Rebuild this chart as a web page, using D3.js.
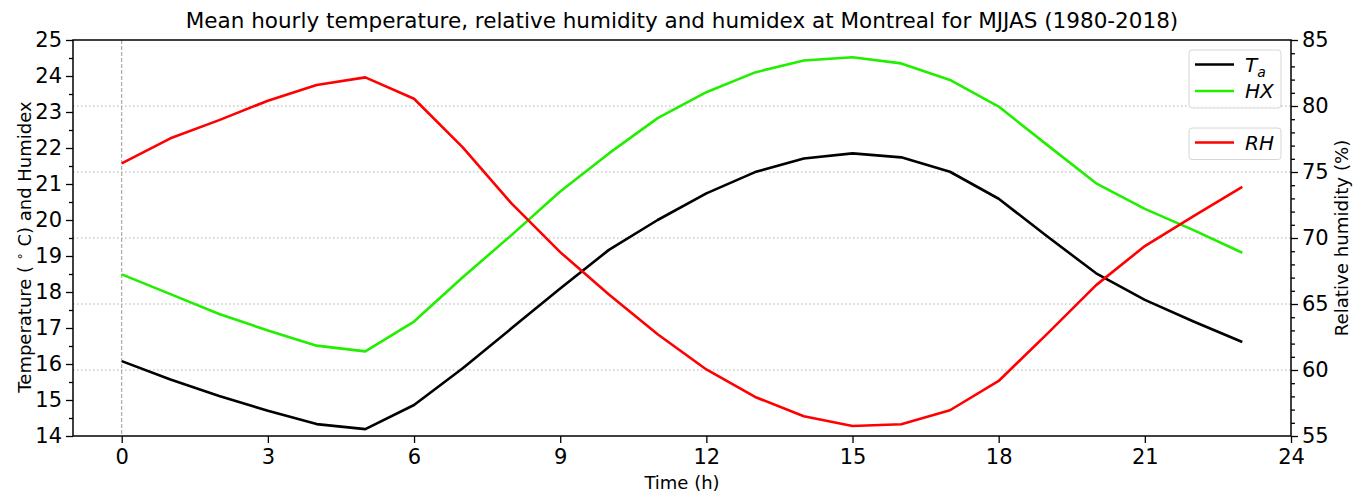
<!DOCTYPE html>
<html>
<head>
<meta charset="utf-8">
<script src="https://cdn.jsdelivr.net/npm/d3@7"></script>
<style>
  body { margin: 0; background: #fff; }
  svg text { font-family: "DejaVu Sans", sans-serif; fill: #000; }
</style>
</head>
<body>
<div id="svgContainer"></div>
<script>
const hours = d3.range(0, 24);
const airTemp = [16.08, 15.57, 15.11, 14.70, 14.33, 14.19, 14.86, 15.88, 16.99, 18.10, 19.17, 20.00,
  20.74, 21.33, 21.71, 21.85, 21.74, 21.34, 20.59, 19.54, 18.52, 17.78, 17.18, 16.61];
const humidex = [18.49, 17.94, 17.39, 16.93, 16.51, 16.35, 17.18, 18.41, 19.58, 20.79, 21.85, 22.83,
  23.55, 24.10, 24.43, 24.52, 24.35, 23.89, 23.15, 22.08, 21.02, 20.31, 19.72, 19.09];
const relHum = [75.65, 77.55, 78.93, 80.40, 81.59, 82.17, 80.55, 76.87, 72.62, 68.93, 65.72, 62.71,
  60.04, 57.96, 56.49, 55.76, 55.89, 56.95, 59.17, 62.76, 66.43, 69.39, 71.66, 73.88];
const xTicks = [0, 3, 6, 9, 12, 15, 18, 21, 24];
const leftTicks = d3.range(14, 26);
const rightTicks = [55, 60, 65, 70, 75, 80, 85];
const gridTicks = [60, 65, 70, 75, 80];

const width = 1353;
const height = 493;
const margin = { top: 40, right: 62, bottom: 57, left: 73 };

const svg = d3
  .select("#svgContainer")
  .append("svg")
  .attr("width", width)
  .attr("height", height);

const x = d3.scaleLinear().domain([-1, 24]).range([margin.left, width - margin.right]);
const yL = d3.scaleLinear().domain([14, 25]).range([height - margin.bottom, margin.top]);
const yR = d3.scaleLinear().domain([55, 85]).range([height - margin.bottom, margin.top]);

// grid
svg
  .append("g")
  .selectAll("line")
  .data(gridTicks)
  .enter()
  .append("line")
  .attr("x1", margin.left)
  .attr("x2", width - margin.right)
  .attr("y1", (d) => yR(d))
  .attr("y2", (d) => yR(d))
  .attr("stroke", "#b0b0b0")
  .attr("stroke-width", 1.2)
  .attr("stroke-dasharray", "1.5,2.5");

svg
  .append("line")
  .attr("x1", x(0))
  .attr("x2", x(0))
  .attr("y1", margin.top)
  .attr("y2", height - margin.bottom)
  .attr("stroke", "#999")
  .attr("stroke-width", 1)
  .attr("stroke-dasharray", "4,2");

// lines
const lineL = (vals) =>
  d3.line().x((d, i) => x(hours[i])).y((d) => yL(d))(vals);
const lineR = d3.line().x((d, i) => x(hours[i])).y((d) => yR(d));

const series = [
  { vals: airTemp, color: "#000000", path: lineL(airTemp) },
  { vals: humidex, color: "#22ee00", path: lineL(humidex) },
  { vals: relHum, color: "#ff0000", path: lineR(relHum) },
];

svg
  .selectAll(".series")
  .data(series)
  .enter()
  .append("path")
  .attr("class", "series")
  .attr("d", (d) => d.path)
  .attr("fill", "none")
  .attr("stroke", (d) => d.color)
  .attr("stroke-width", 2.6)
  .attr("stroke-linejoin", "round");

// axes
const styleAxis = (g) => {
  g.attr("font-size", null).attr("font-family", null);
  g.select(".domain").remove();
  g.selectAll("line").attr("stroke", "#000").attr("stroke-width", 1.3);
  g.selectAll("text").style("font-size", "21px");
};

svg
  .append("g")
  .attr("transform", `translate(0,${height - margin.bottom})`)
  .call(d3.axisBottom(x).tickValues(xTicks).tickFormat(d3.format("d")).tickSize(7).tickPadding(6))
  .call(styleAxis);

svg
  .append("g")
  .attr("transform", `translate(${margin.left},0)`)
  .call(d3.axisLeft(yL).tickValues(d3.range(14.5, 25, 1)).tickSize(4).tickFormat(""))
  .call(styleAxis);
svg
  .append("g")
  .attr("transform", `translate(${margin.left},0)`)
  .call(d3.axisLeft(yL).tickValues(leftTicks).tickSize(7).tickPadding(4).tickFormat(d3.format("d")))
  .call(styleAxis);

svg
  .append("g")
  .attr("transform", `translate(${width - margin.right},0)`)
  .call(d3.axisRight(yR).tickValues(d3.range(56, 85).filter((v) => v % 5 !== 0)).tickSize(4).tickFormat(""))
  .call(styleAxis);
svg
  .append("g")
  .attr("transform", `translate(${width - margin.right},0)`)
  .call(d3.axisRight(yR).tickValues(rightTicks).tickSize(7).tickPadding(4).tickFormat(d3.format("d")))
  .call(styleAxis);

// frame
svg
  .append("rect")
  .attr("x", margin.left)
  .attr("y", margin.top)
  .attr("width", width - margin.left - margin.right)
  .attr("height", height - margin.top - margin.bottom)
  .attr("fill", "none")
  .attr("stroke", "#000")
  .attr("stroke-width", 1.5);

// labels
svg
  .append("text")
  .attr("x", (margin.left + width - margin.right) / 2)
  .attr("y", 28)
  .attr("text-anchor", "middle")
  .style("font-size", "21.5px")
  .text("Mean hourly temperature, relative humidity and humidex at Montreal for MJJAS (1980-2018)");

svg
  .append("text")
  .attr("x", x(11.5))
  .attr("y", 489)
  .attr("text-anchor", "middle")
  .style("font-size", "18px")
  .text("Time (h)");

const yLabel = svg
  .append("text")
  .attr("transform", `translate(31,${(margin.top + height - margin.bottom) / 2 + 9}) rotate(-90)`)
  .attr("text-anchor", "middle")
  .style("font-size", "18px");
yLabel.append("tspan").text("Temperature ( ");
yLabel.append("tspan").style("font-size", "12.5px").attr("dy", -7).text("∘");
yLabel.append("tspan").attr("dy", 7).text(" C) and Humidex");

svg
  .append("text")
  .attr("transform", `translate(1348,${(margin.top + height - margin.bottom) / 2}) rotate(-90)`)
  .attr("text-anchor", "middle")
  .style("font-size", "18.2px")
  .text("Relative humidity (%)");

// legends
const legends = [
  { top: 50, items: [{ name: "T", sub: "a", color: "#000000" }, { name: "HX", color: "#22ee00" }] },
  { top: 128, items: [{ name: "RH", color: "#ff0000" }] },
];

legends.forEach((lg) => {
  const g = svg.append("g").attr("transform", `translate(1189,${lg.top})`);
  g.append("rect")
    .attr("width", 92)
    .attr("height", lg.items.length * 26.5 + 5)
    .attr("rx", 3)
    .attr("fill", "#fff")
    .attr("fill-opacity", 0.8)
    .attr("stroke", "#d6d6d6")
    .attr("stroke-width", 1);
  const item = g
    .selectAll(".item")
    .data(lg.items)
    .enter()
    .append("g")
    .attr("transform", (d, i) => `translate(0,${14.5 + i * 26.5})`);
  item
    .append("line")
    .attr("x1", 6)
    .attr("x2", 45)
    .attr("stroke", (d) => d.color)
    .attr("stroke-width", 2.6);
  const t = item
    .append("text")
    .attr("x", 56)
    .attr("y", 7)
    .style("font-size", "20px")
    .style("font-style", "italic");
  t.append("tspan").text((d) => d.name);
  t.filter((d) => d.sub)
    .append("tspan")
    .attr("dy", 5)
    .style("font-size", "14px")
    .text((d) => d.sub);
});
</script>
</body>
</html>
